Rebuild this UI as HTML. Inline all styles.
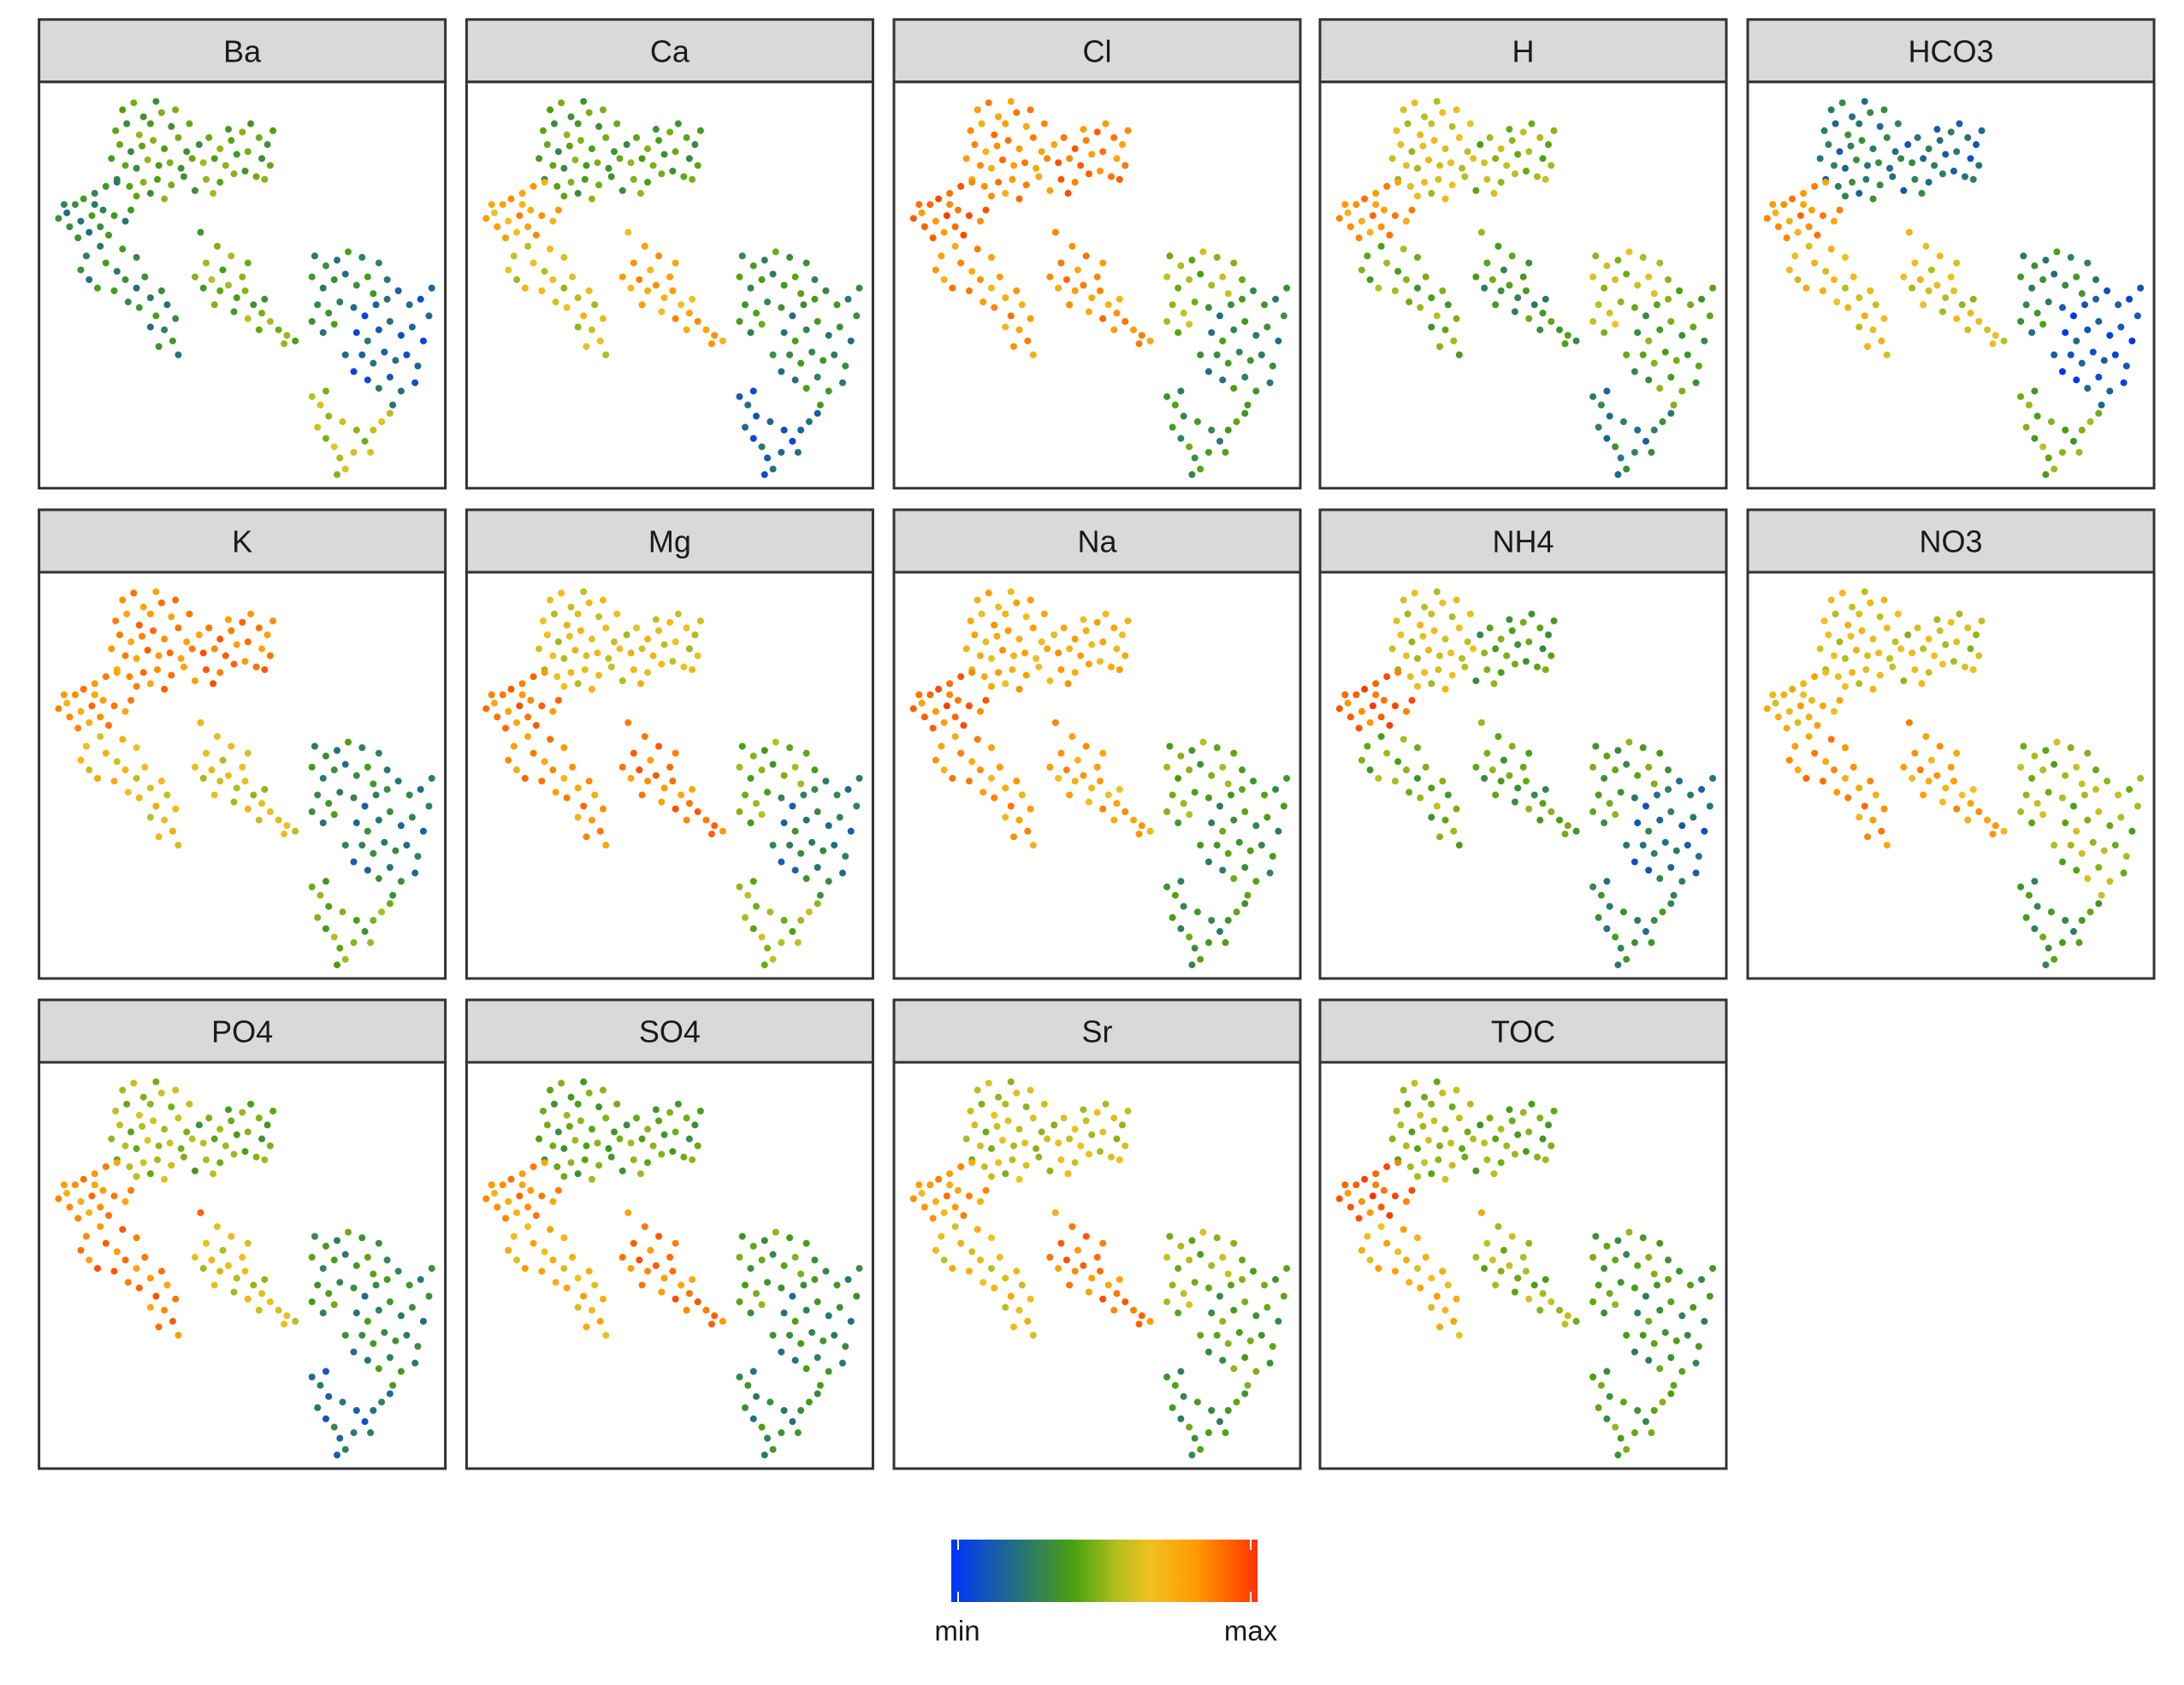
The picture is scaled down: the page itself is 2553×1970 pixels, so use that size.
<!DOCTYPE html>
<html><head><meta charset="utf-8">
<style>
html,body{margin:0;padding:0;background:#fff;}
body{width:2553px;height:1965px;overflow:hidden;font-family:"Liberation Sans",sans-serif;}
</style></head>
<body>
<svg id="chart" width="2553" height="1965" xmlns="http://www.w3.org/2000/svg">
<defs>
<linearGradient id="cmap" x1="0" x2="1" y1="0" y2="0">
<stop offset="0" stop-color="#0033ff"/>
<stop offset="0.25" stop-color="#2a7a6a"/>
<stop offset="0.4" stop-color="#4aa010"/>
<stop offset="0.55" stop-color="#b8c020"/>
<stop offset="0.65" stop-color="#f0c020"/>
<stop offset="0.8" stop-color="#ff9a00"/>
<stop offset="1" stop-color="#ff3300"/>
</linearGradient>
</defs>
</svg>
<script>
const panels=["Ba","Ca","Cl","H","HCO3","K","Mg","Na","NH4","NO3","PO4","SO4","Sr","TOC"];
// regions: 0 top-left,1 top-right,2 left small,3 mid-left,4 mid-right,5 right-upper,6 right-core,7 tail
const vBa=[.4,.42,.3,.3,.45,.3,.15,.55];
const vCa=[.4,.4,.75,.6,.75,.35,.3,.15];
const vCl=[.8,.85,.88,.78,.8,.5,.3,.35];
const vH=[.6,.5,.8,.45,.35,.55,.4,.25];
const vHCO3=[.25,.2,.8,.65,.6,.3,.1,.45];
const vK=[.82,.85,.8,.65,.6,.3,.25,.45];
const vMg=[.62,.62,.85,.8,.85,.45,.25,.5];
const vNa=[.72,.72,.88,.78,.75,.45,.35,.35];
const vNH4=[.6,.4,.9,.45,.4,.4,.2,.3];
const vNO3=[.62,.58,.7,.8,.75,.5,.5,.35];
const vPO4=[.52,.45,.8,.85,.6,.35,.3,.2];
const vSO4=[.42,.42,.8,.7,.85,.4,.3,.3];
const vSr=[.55,.58,.78,.65,.85,.5,.4,.35];
const vTOC=[.5,.45,.9,.7,.5,.4,.35,.4];
const values=[vBa,vCa,vCl,vH,vHCO3,vK,vMg,vNa,vNH4,vNO3,vPO4,vSO4,vSr,vTOC];
const jit=[0,.06,-.05,.03,-.08,.1,-.02,.07,-.06,.04,-.1,.02,.08];
const r0=[[60,20],[68,15],[75,25],[55,35],[63,30],[72,38],[80,30],[88,22],[95,32],[58,45],[66,50],[74,46],[82,42],[90,48],[100,40],[106,50],[62,60],[70,62],[78,56],[86,60],[94,58],[102,62],[110,55],[56,70],[65,75],[75,72],[85,70],[95,74],[104,68],[70,82],[80,80],[90,84],[52,55],[98,20],[84,14],[108,30]];
const r1=[[115,45],[122,40],[130,48],[138,42],[146,36],[152,30],[158,40],[164,45],[118,58],[126,55],[134,60],[142,52],[150,50],[160,55],[166,60],[120,70],[130,72],[140,66],[148,64],[156,68],[112,78],[125,80],[168,35],[162,70],[136,34]];
const r2=[[14,98],[20,94],[26,88],[32,84],[40,80],[48,75],[56,72],[22,104],[30,100],[38,96],[46,92],[54,96],[62,100],[28,112],[36,108],[44,104],[50,110],[18,88],[66,92],[40,88]];
const r3=[[30,135],[36,142],[42,148],[34,125],[48,130],[56,136],[62,142],[70,148],[76,140],[54,150],[64,158],[72,162],[80,155],[88,150],[92,160],[84,168],[90,178],[96,186],[100,196],[86,190],[80,176],[98,170],[60,120],[70,126],[116,108],[44,118]];
const r4=[[112,140],[118,148],[124,142],[130,150],[136,146],[142,155],[148,150],[154,160],[160,166],[166,172],[172,178],[178,182],[184,186],[126,160],[140,165],[150,170],[158,178],[120,130],[132,135],[146,140],[162,156],[128,118],[138,125],[150,130],[176,188]];
const r5=[[198,125],[206,132],[214,128],[222,122],[232,126],[196,140],[204,148],[212,142],[220,138],[228,146],[236,140],[200,160],[208,166],[216,158],[196,172],[204,180],[212,174],[244,130],[240,152],[250,142]];
const r6=[[226,162],[234,168],[242,160],[250,156],[258,150],[266,160],[274,156],[280,168],[228,180],[236,186],[244,178],[252,172],[260,182],[268,176],[276,186],[232,196],[240,202],[248,194],[256,200],[264,196],[272,204],[236,214],[244,220],[252,212],[260,222],[270,216],[220,196],[226,208],[282,148],[254,232]];
const r7=[[196,226],[202,232],[208,240],[200,248],[206,256],[212,262],[216,270],[220,278],[214,282],[226,266],[234,258],[240,250],[246,244],[252,238],[238,266],[228,250],[218,244],[206,222]];
const regions=[r0,r1,r2,r3,r4,r5,r6,r7];

const svg=document.getElementById('chart');
const NS='http://www.w3.org/2000/svg';
const S=1.628;
const colLeft=[45.6,545.4,1045,1543,2043];
const rowTop=[22.8,596,1169];
const W=475, stripH=73, bodyH=475;
const stops=[[0,[0,51,255]],[.25,[42,122,106]],[.4,[74,160,16]],[.55,[184,192,32]],[.65,[240,192,32]],[.8,[255,154,0]],[1,[255,51,0]]];
function cmap(v){v=Math.max(0,Math.min(1,v));for(let i=1;i<stops.length;i++){if(v<=stops[i][0]){const a=stops[i-1],b=stops[i];const t=(v-a[0])/(b[0]-a[0]);const c=a[1].map((x,k)=>Math.round(x+(b[1][k]-x)*t));return `rgb(${c[0]},${c[1]},${c[2]})`;}}return 'rgb(255,51,0)';}
function mk(tag,attrs){const e=document.createElementNS(NS,tag);for(const k in attrs)e.setAttribute(k,attrs[k]);svg.appendChild(e);return e;}

panels.forEach((name,p)=>{
  const cx=colLeft[p%5], ty=rowTop[Math.floor(p/5)];
  const strip=mk('rect',{x:cx,y:ty,width:W,height:stripH,fill:'#d9d9d9',stroke:'#333','stroke-width':3});
  
  
  const t=mk('text',{x:cx+W/2,y:ty+stripH/2+13,'text-anchor':'middle','font-size':36,fill:'#1a1a1a','font-family':'Liberation Sans, sans-serif'});
  t.textContent=name;
  
  
  const by=ty+stripH;
  const body=mk('rect',{x:cx,y:by,width:W,height:bodyH,fill:'#fff',stroke:'#333','stroke-width':3});
  
  
  let i=0;
  regions.forEach((pts,r)=>{
    pts.forEach(pt=>{
      const c=mk('circle',{cx:cx+pt[0]*S,cy:by+pt[1]*S,r:4,fill:cmap(values[p][r]+jit[i%13])});
      
      
      i++;
    });
  });
});
// legend
const bar=mk('rect',{x:1112,y:1800,width:358,height:73,fill:'url(#cmap)'});


[1120,1462].forEach(x=>{mk('line',{x1:x,x2:x,y1:1800,y2:1812,stroke:'#fff','stroke-width':2});mk('line',{x1:x,x2:x,y1:1861,y2:1873,stroke:'#fff','stroke-width':2});});
const lmin=mk('text',{x:1119,y:1918,'text-anchor':'middle','font-size':33,fill:'#1a1a1a'});
lmin.textContent='min';


const lmax=mk('text',{x:1462,y:1918,'text-anchor':'middle','font-size':33,fill:'#1a1a1a'});
lmax.textContent='max';


</script>
</body></html>
